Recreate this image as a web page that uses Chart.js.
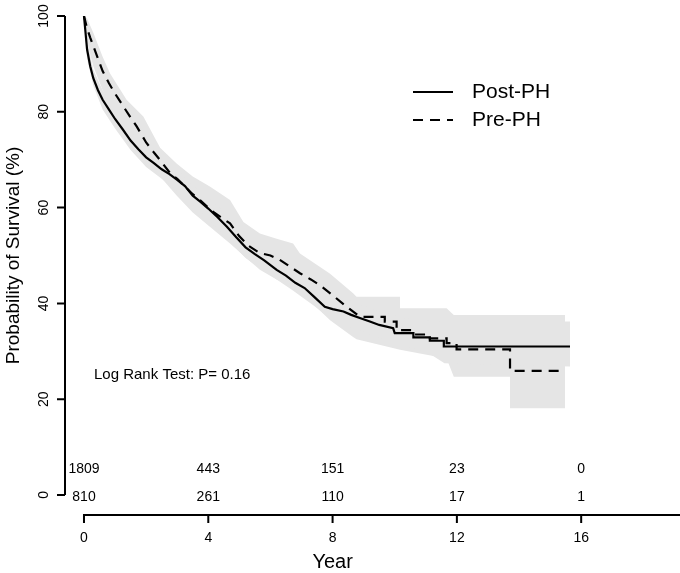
<!DOCTYPE html>
<html>
<head>
<meta charset="utf-8">
<script src="https://cdn.jsdelivr.net/npm/chart.js@4"></script>
<style>
  html, body { margin: 0; padding: 0; background: #fff; }
  canvas { display: block; }
</style>
</head>
<body>
<canvas id="km" width="680" height="573"></canvas>
<script>
// Post-PH (solid) survival curve
const postT = [0, 0.05, 0.1, 0.2, 0.3, 0.45, 0.6, 0.8, 1.0, 1.25, 1.5, 1.75, 2.0, 2.25, 2.5, 2.75, 3.0, 3.25, 3.5, 3.75,
  4.0, 4.3, 4.6, 4.9, 5.2, 5.5, 5.8, 6.2, 6.5, 6.8, 7.1, 7.4, 7.75, 8.0, 8.35, 8.6, 8.9, 9.2, 9.5, 9.95,
  10.0, 10.6, 10.6, 11.13, 11.13, 11.58, 11.58, 15.64];
const postS = [100, 96.5, 93, 89.5, 87, 84.5, 82.5, 80.5, 78.5, 76.3, 74, 72.2, 70.5, 69.3, 68, 67, 65.8, 64.5, 62.5, 61.2,
  59.8, 58, 56, 53.8, 51.7, 50.3, 49, 47, 45.8, 44.3, 43.2, 41.4, 39.3, 38.8, 38.3, 37.6, 36.9, 36.2, 35.5, 34.8,
  33.8, 33.8, 32.9, 32.9, 32.2, 32.2, 31.0, 31.0];

// Pre-PH (dashed) survival curve
const preT = [0, 0.1, 0.2, 0.4, 0.6, 0.8, 1.0, 1.27, 1.5, 1.7, 2.0, 2.25, 2.5, 2.77, 3.0, 3.2, 3.5, 3.73, 4.0, 4.16,
  4.4, 4.7, 5.0, 5.3, 5.66, 6.0, 6.3, 6.6, 6.95, 7.3, 7.59, 8.02, 8.45, 8.88, 9.68, 9.68, 10.06, 10.06, 10.6, 10.65,
  11.13, 11.13, 11.67, 11.67, 11.99, 11.99, 13.71, 13.71, 15.48];
const preS = [100, 97.4, 95.5, 92, 88.5, 86, 83.8, 81.1, 78.8, 76.9, 73.6, 71.5, 69.5, 67.2, 66, 64.7, 62.8, 61.6, 60, 59.1,
  58, 56.7, 54, 52, 50.5, 50, 49.1, 47.8, 46.3, 45, 43.8, 41.6, 39.3, 37.2, 37.2, 36.2, 36.2, 34.4, 34.4, 33.5,
  33.5, 32.7, 32.7, 31.7, 31.7, 30.4, 30.4, 25.9, 25.9];

// confidence bands
const postCiT = [0, 0.1, 0.3, 0.6, 1.0, 1.5, 2.0, 2.5, 3.0, 3.5, 4.0, 4.6, 5.2, 5.7, 6.2, 6.7, 7.4, 8.0, 8.6, 9.2,
  9.8, 10.4, 11.0, 11.6, 15.64];
const postLo = [100, 91, 85.5, 80.5, 76.5, 72, 68.5, 66, 63.5, 60.5, 57.5, 53.5, 49.5, 47.2, 45, 42.8, 39.5, 36.5, 35, 33.5,
  32, 30.8, 30, 27.5, 26.8];
const postUp = [100, 94.8, 88.8, 84.5, 80.5, 76, 72.5, 70, 68, 64.5, 62, 58.5, 54, 51.5, 49.5, 46.8, 43.5, 41.5, 40.5, 39,
  37.8, 36.8, 36.4, 36.2, 36.2];

const preCiT = [0, 0.1, 0.3, 0.6, 0.84, 1.37, 1.91, 2.45, 2.98, 3.5, 4.05, 4.7, 5.13, 5.66, 6.2, 6.73, 6.95, 7.92, 8.66, 8.77,
  10.17, 10.17, 11.67, 11.9, 13.71, 13.71, 15.48];
const preUp = [100, 99.5, 96.5, 91.5, 88, 82.5, 79, 72.5, 69.2, 66.5, 64.4, 61.6, 57, 54.6, 53.5, 52.5, 50.4, 46.2, 42.1, 41.4,
  41.4, 39.0, 39.0, 37.6, 37.6, 37.6, 37.6];
const preLo = [100, 94.5, 89.5, 84.5, 81.5, 76.5, 71, 66.5, 62.5, 59, 56, 52.5, 50, 47, 45, 43.5, 42.5, 36.5, 33, 32.5,
  30.3, 30.3, 28.5, 24.7, 24.7, 18.1, 18.1];

// axes and numbers at risk
const xTicks = [0, 4, 8, 12, 16];
const yTicks = [0, 20, 40, 60, 80, 100];
const riskPost = [1809, 443, 151, 23, 0];
const riskPre = [810, 261, 110, 17, 1];
const legendLabels = ["Post-PH", "Pre-PH"];
const pText = "Log Rank Test: P= 0.16";

const FONT = '"Liberation Sans", Arial, Helvetica, sans-serif';
const BAND = "#e5e5e5";
const DASH = [10, 7];

function pts(ts, vs) {
  return ts.map((t, i) => ({ x: t, y: vs[i] }));
}

function lineDs(label, ts, vs, dash) {
  return {
    label, data: pts(ts, vs),
    borderColor: "#000", borderWidth: 2.2, borderDash: dash || [],
    borderCapStyle: "butt", pointRadius: 0, tension: 0, fill: false,
  };
}
function bandDs(ts, vs, fill) {
  return {
    data: pts(ts, vs), borderWidth: 0, borderColor: "rgba(0,0,0,0)",
    backgroundColor: BAND, pointRadius: 0, tension: 0, fill: fill,
  };
}

const overlay = {
  id: "overlay",
  afterDraw(chart) {
    const ctx = chart.ctx, a = chart.chartArea;
    const xs = chart.scales.x, ys = chart.scales.y;
    ctx.save();
    ctx.strokeStyle = "#000";
    ctx.fillStyle = "#000";
    ctx.lineWidth = 2;
    ctx.lineCap = "butt";

    // y axis
    const ax = a.left;
    ctx.beginPath();
    ctx.moveTo(ax, ys.getPixelForValue(0));
    ctx.lineTo(ax, ys.getPixelForValue(100));
    yTicks.forEach(v => {
      const py = ys.getPixelForValue(v);
      ctx.moveTo(ax - 8, py);
      ctx.lineTo(ax, py);
    });
    ctx.stroke();
    ctx.font = "14px " + FONT;
    ctx.textAlign = "center";
    ctx.textBaseline = "middle";
    yTicks.forEach(v => {
      ctx.save();
      ctx.translate(44, ys.getPixelForValue(v));
      ctx.rotate(-Math.PI / 2);
      ctx.fillText(String(v), 0, 0);
      ctx.restore();
    });

    // x axis
    const by = a.bottom;
    ctx.beginPath();
    ctx.moveTo(xs.getPixelForValue(0), by);
    ctx.lineTo(a.right, by);
    xTicks.forEach(v => {
      const px = xs.getPixelForValue(v);
      ctx.moveTo(px, by - 1);
      ctx.lineTo(px, by + 8);
    });
    ctx.stroke();
    xTicks.forEach(v => ctx.fillText(String(v), xs.getPixelForValue(v), 538));

    // numbers at risk
    const y0 = ys.getPixelForValue(0);
    xTicks.forEach((v, i) => {
      const px = xs.getPixelForValue(v);
      ctx.fillText(String(riskPost[i]), px, y0 - 26);
      ctx.fillText(String(riskPre[i]), px, y0 + 2);
    });

    // titles
    ctx.font = "20px " + FONT;
    ctx.fillText("Year", xs.getPixelForValue(8), 562);
    ctx.save();
    ctx.translate(14, (ys.getPixelForValue(0) + ys.getPixelForValue(100)) / 2);
    ctx.rotate(-Math.PI / 2);
    ctx.font = "19px " + FONT;
    ctx.fillText("Probability of Survival (%)", 0, 0);
    ctx.restore();

    ctx.font = "15px " + FONT;
    ctx.textAlign = "left";
    ctx.fillText(pText, 94, 375);

    // legend
    ctx.lineWidth = 2.2;
    [92, 120].forEach((ly, i) => {
      ctx.setLineDash(i === 0 ? [] : DASH);
      ctx.beginPath();
      ctx.moveTo(413, ly);
      ctx.lineTo(453, ly);
      ctx.stroke();
    });
    ctx.setLineDash([]);
    ctx.font = "21px " + FONT;
    ctx.fillText(legendLabels[0], 472, 92);
    ctx.fillText(legendLabels[1], 472, 120);
    ctx.restore();
  }
};

new Chart(document.getElementById("km"), {
  type: "line",
  data: {
    datasets: [
      lineDs(legendLabels[0], postT, postS),
      lineDs(legendLabels[1], preT, preS, DASH),
      bandDs(postCiT, postUp, "+1"),
      bandDs(postCiT, postLo, false),
      bandDs(preCiT, preUp, "+1"),
      bandDs(preCiT, preLo, false),
    ],
  },
  options: {
    responsive: false, animation: false, events: [],
    layout: { padding: { left: 65, right: 0, top: 16, bottom: 58 } },
    scales: {
      x: { type: "linear", min: -0.611, max: 19.18, display: false },
      y: { type: "linear", min: -4.18, max: 100, display: false },
    },
    plugins: {
      legend: { display: false },
      tooltip: { enabled: false },
      filler: { drawTime: "beforeDatasetsDraw" },
    },
  },
  plugins: [overlay],
});
</script>
</body>
</html>
